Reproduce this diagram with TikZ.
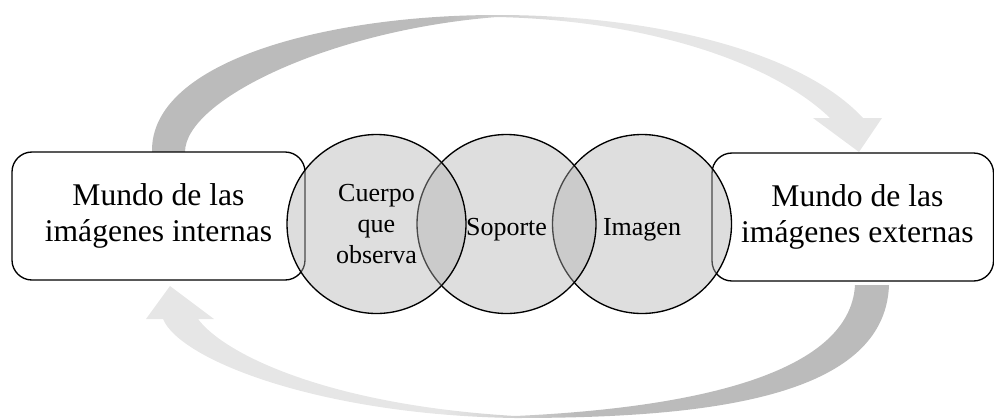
\documentclass[tikz,border=0pt]{standalone}
\usepackage{fontspec}
\setmainfont{Liberation Serif}
\definecolor{arrdark}{HTML}{BBBBBB}
\definecolor{arrlight}{HTML}{E6E6E6}
\definecolor{circfill}{gray}{0.69}
\pgfdeclarehorizontalshading{shadeLR}{100bp}{color(0bp)=(arrdark); color(45bp)=(arrdark); color(54bp)=(arrlight); color(100bp)=(arrlight)}
\pgfdeclarehorizontalshading{shadeRL}{100bp}{color(0bp)=(arrlight); color(45bp)=(arrlight); color(54bp)=(arrdark); color(100bp)=(arrdark)}
\tikzset{
  worldbox/.style={draw=black, line width=1pt, fill=white, rounded corners=15pt,
    align=center, inner sep=0pt, font=\fontsize{23.7}{27}\selectfont},
  circ/.style={circle, draw=black, line width=1pt, fill=circfill, fill opacity=0.42,
    draw opacity=1, inner sep=0pt, minimum size=134.25pt},
  circtext/.style={align=center, inner sep=0pt, text opacity=1, font=\fontsize{19.5}{23.2}\selectfont},
}
\begin{document}
\begin{tikzpicture}[x=0.75pt, y=-0.75pt]
\useasboundingbox (0,0) rectangle (994,418);
% curved arrows
\path[shading=shadeLR, shading angle=0]
  (152,152) .. controls (150,60) and (330,15) .. (497,15)
  .. controls (650,15) and (800,50) .. (863,118)
  -- (882,118) -- (859,152) -- (813,118) -- (830,118)
  .. controls (770,60) and (640,20) .. (497,17)
  .. controls (330,30) and (185,100) .. (185,152) -- cycle;
\path[shading=shadeRL, shading angle=0]
  (855,285) -- (889,285)
  .. controls (885,400) and (700,418) .. (515,418)
  .. controls (320,415) and (180,360) .. (163,319)
  -- (146,319) -- (170,286) -- (214,319) -- (198,319)
  .. controls (225,355) and (330,405) .. (515,416)
  .. controls (690,408) and (850,375) .. (855,285) -- cycle;
% boxes
\node[worldbox, minimum width=219.75pt, minimum height=96pt] (lbox) at (158.5,216)
  {Mundo de las\\imágenes internas};
\node[worldbox, minimum width=211.1pt, minimum height=96pt] (rbox) at (852.75,217)
  {\hspace*{7pt}Mundo de las\\\hspace*{7pt}imágenes externas};
% circles
\node[circ] (c3) at (642,224) {};
\node[circ] (c2) at (506.5,224) {};
\node[circ] (c1) at (376.5,224) {};
\node[circtext] (t1) at (c1) {Cuerpo\\que\\observa};
\node[circtext, anchor=base] (t2) at ([yshift=-8.25pt]c2.center) {Soporte};
\node[circtext, anchor=base] (t3) at ([yshift=-8.25pt]c3.center) {Imagen};
\end{tikzpicture}
\end{document}
